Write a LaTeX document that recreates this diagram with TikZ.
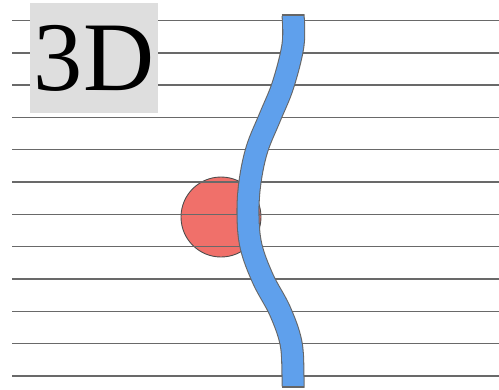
\documentclass[tikz,border=0pt]{standalone}
\usepackage{fontspec}
\setmainfont{Liberation Serif}
\usetikzlibrary{positioning}

\definecolor{bandblue}{RGB}{95,160,236}
\definecolor{ballred}{RGB}{240,112,106}
\definecolor{rulegray}{RGB}{105,105,105}
\definecolor{tagbg}{RGB}{222,222,222}

\begin{document}
\begin{tikzpicture}[
    x=0.02cm, y=-0.02cm,
    ball/.style={circle, draw=black!70, fill=ballred, line width=0.5pt, minimum size=1.6cm, inner sep=0pt},
    rule/.style={draw=rulegray, line width=0.8pt},
    tag/.style={rectangle, fill=tagbg, minimum width=2.56cm, minimum height=2.2cm, inner sep=0pt, font=\fontsize{56}{60}\selectfont},
    band/.style={draw=black!60, line width=0.6pt, double=bandblue, double distance=11.9pt, line cap=butt}
]
\useasboundingbox (0,0) rectangle (499,389);

% Ball
\node[ball] (ball) at (221,217) {};

% Lines
\foreach \y in {0,...,11}
  \draw[rule] (12,20.5+32.3*\y) -- (499,20.5+32.3*\y);

% Label
\node[tag] (label) at (94,58) {3D};

% Band
\draw[band] plot[smooth, tension=0.6] coordinates {(293,15) (293,45) (283,85) (270,117) (257,149) (250,182) (248,214) (251,246) (263,279) (280,311) (291,343) (293,376) (293,387)};
\draw[draw=black!60, line width=0.6pt] (281.7,15) -- (304.3,15);
\draw[draw=black!60, line width=0.6pt] (281.7,387) -- (304.3,387);

\end{tikzpicture}
\end{document}
